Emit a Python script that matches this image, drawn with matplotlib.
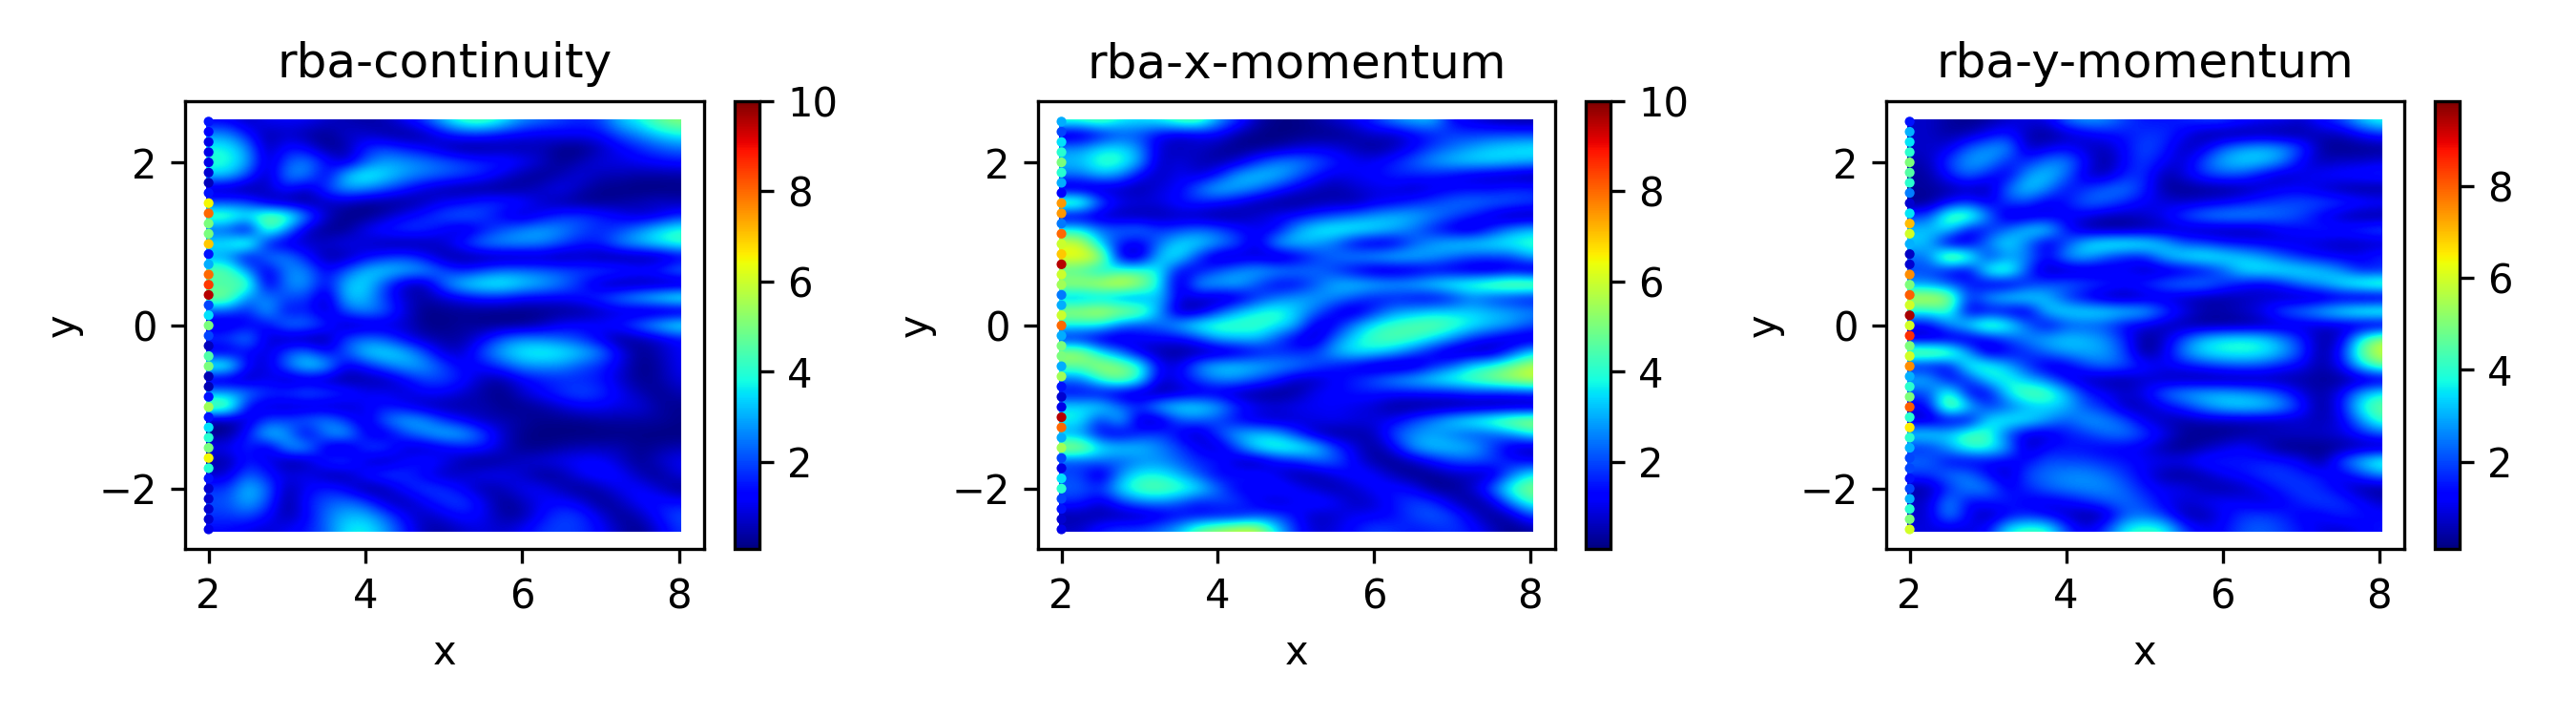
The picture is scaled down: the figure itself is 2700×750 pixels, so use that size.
import numpy as np
import matplotlib
matplotlib.use('Agg')
import matplotlib.pyplot as plt
from matplotlib.patches import Rectangle

# Residual weights, rows from y=2.5 down to y=-2.5

x_vals = [2 + 0.25 * i for i in range(25)]
y_vals = [2.5 - i / 6 for i in range(31)]
edge_y = [2.5 - i / 8 for i in range(41)]

titles = ['rba-continuity', 'rba-x-momentum', 'rba-y-momentum']
ranges = [(0.07, 10), (0.07, 10), (0.1, 9.85)]
cbar_ticks = [[2, 4, 6, 8, 10], [2, 4, 6, 8, 10], [2, 4, 6, 8]]

# Ajuste da leitura das cores para a escala da colorbar
read_levels = [0.3, 0.5, 0.7, 1.0, 1.5, 2.0, 3.0, 4.0, 10.0]
cbar_levels = [0.07, 0.2, 0.55, 1.15, 1.95, 2.7, 3.8, 4.8, 10.0]

# Pontos da borda esquerda (x=2), mais finos que a grade
edge_continuity = [1.5,1.2,1,1,1,.8,.6,1.5,6.5,8,5,5,7,1.5,3,8,8.5,9.5,2,3.5,5,2,.6,4.5,5,.5,.5,1.5,5.5,1.5,3.5,4,5,6.5,4,1.5,.8,.8,.8,.8,1]
edge_x_momentum = [3,2,3.5,4,5,4,3,1.2,7.5,7.5,2.5,8,6,7,9.5,6,5.5,2.5,3,6,8,3,5,5,3,5.5,1.5,.8,1,9.5,8,3,5.5,2,1,3.5,4,2,1.5,.8,1]
edge_y_momentum = [1.5,3,3.5,4,5,4.5,4,2.5,.8,3.5,7,6,3,.7,.8,7.5,5,8,6,9.5,6,8.5,5,6,7.5,3,4,5,8,4,6.5,4,3,2,2,1.5,2,3,4,5,6]

rba_continuity = [
    [1.5,1,.7,1,1,1,.8,.7,.6,.7,1,1.5,2.5,3.6,3.8,3,2,1.8,1.5,1.3,1.5,2.5,3,4,4.5],
    [1,2,1.2,.6,.8,.6,.5,.8,.8,.6,.5,.6,1,1.3,1.3,1.1,1,.9,1,1,1.1,1.6,2,2.6,3],
    [1.5,3,2,.6,1.2,1,.5,.6,1.3,1.5,1.2,1,.7,.4,.5,.6,.6,.7,.4,.3,.7,1,1.3,1.6,1.8],
    [1.5,3.2,2.3,.7,1.6,2,1.2,.7,1.6,2.2,2.1,1.9,1.7,1.5,1.3,1.3,1.1,.8,.5,.7,.9,.9,1,1.1,1.2],
    [.8,2.6,1.5,.6,2,2,.9,2.6,3.3,2.8,2.2,1.9,1.7,1.5,1.3,.9,.6,.5,.7,.9,.7,.7,.6,.6,.6],
    [1,.6,.4,.8,1.2,.7,1.5,2.2,2,1.6,1.2,.8,.6,.5,.4,.4,.6,.8,1,.7,.5,.4,.3,.3,.4],
    [6.5,1.5,1.5,.7,.5,.5,.7,.7,.5,.5,.5,.7,1,1.1,1.4,1.4,1.2,.8,.6,.5,.5,.6,.7,.8,.7],
    [7,4,3,4.5,4,2,.8,.4,.4,.7,1,1.3,1.6,1.8,1.5,1,.7,1,1.4,1.5,1.3,1,.8,.9,1.3],
    [5,1.5,.6,4,2,.7,.5,.5,1,1.3,1.5,1.4,1,.7,1.1,1.6,2,2.3,2,1.6,1.3,1.5,2,2.8,3.3],
    [7,3,4.5,1,.8,.8,.8,1,.8,.6,.5,.6,.8,1.4,2,2.2,2.2,2,1.6,1.2,1.3,2,2.5,3,3.5],
    [4,2,.8,2,2,1.2,.6,.6,1,1.3,1.5,1.1,.6,.5,.5,.5,.5,.6,.5,.7,.5,.4,.4,.4,.8],
    [5,4,2,.8,2,2,1,1.6,2.5,2.8,2.5,2.3,1.6,1.2,1.5,1.8,1.8,1.7,1.6,1.5,1.6,1.5,1.3,1.5,2],
    [8,3.5,4.2,.7,2,2.2,1,2.5,2.8,1.5,.7,.6,1.8,2.8,3.2,3.3,2.8,2.4,1.9,1.3,.7,.5,.5,.4,.3],
    [3,4.5,1.8,2,1.5,1.5,.6,2.5,2.5,1.4,.8,.6,.8,1,1.2,1.2,1,1,1,1.2,1.5,2,2.6,3.2,3.8],
    [5,1.5,1.2,2.5,1,1.3,.7,1.6,2,1.7,.9,.4,.5,.5,.5,.4,.4,.4,.5,.5,.7,.8,.6,.5,.4],
    [3,.8,1,1,2,1.9,1.4,.6,.7,.8,.8,.5,.4,.6,.5,.5,.5,.7,1,1.1,1.1,1.3,1.9,2.7,3.4],
    [.7,1.5,2.2,.8,.6,.5,.5,1.5,1.8,1.6,1,.7,.6,.6,1,1.7,2,1.9,1.7,1.4,.9,.4,.6,.8,1.1],
    [3.5,.8,1.1,.8,1.6,1.9,1,1.6,2.7,2.9,2.5,1.6,.8,.8,1.6,2.4,3,3.2,3,2.6,2,1,.5,.7,1],
    [4.5,3.8,1,.8,1.8,3,2.6,.9,1.2,1.8,2.3,2.2,1.5,1,1.1,1.5,2,2.1,2,1.6,1.3,.9,.4,.6,1],
    [.6,.6,.6,1,.6,.7,.6,.5,.6,.6,1,1.5,1.5,1.2,.7,.6,1,1.2,1.3,1.3,1.2,.8,.5,.6,.9],
    [1.5,2.3,2,1.4,1.5,1.8,1.6,1.4,1,1,.8,1,1,.8,.6,.4,.8,1.1,1.4,1.6,1.4,1,.7,.5,.7],
    [5.5,4.5,1,.8,.7,.7,.7,.7,1,1.2,1,.7,.6,.6,.7,.5,.5,.6,.8,1,1,.9,.9,.6,.5],
    [.7,.5,.8,1.5,1.5,1.8,2,1.4,.8,1.8,2.4,2.2,1.4,1,.7,.7,.6,.5,.5,.5,.6,.6,.6,.6,.5],
    [3.5,.5,1.2,2.8,2.2,.8,2,2.5,1,.8,1.5,2,2.6,2.4,1.6,.8,.5,.3,.3,.3,.3,.4,.4,.3,.3],
    [5.5,1,1.4,.7,2.2,2.4,.8,.6,1.5,1.6,.8,.7,.9,1.2,1.2,.8,.5,.5,.6,.7,.7,.7,.5,.6,.7],
    [5,.6,1.2,1,.5,.6,1.4,1.6,.8,.6,1,1.3,1,.6,.4,.6,.8,.9,1,1.1,1.1,.8,.5,.8,1],
    [3,.8,1.8,1.2,.9,1,.6,.6,1.2,1.6,1.4,1,.7,.8,1,1,.8,.5,.6,1,1.2,1.1,.7,.5,.9],
    [1,1.4,2.6,1.8,.6,1,1.3,1,.5,.6,1.2,1.5,1.4,1,.6,.7,1,1,.7,.4,.7,1,1.1,.8,.4],
    [.8,1.6,2.4,1.6,.4,1.2,1.6,1.8,1.5,.8,.6,1,1.4,1.5,1,.5,.7,1,1.1,.9,.4,.7,1.1,1.2,1.1],
    [.8,1.4,1.6,1.1,.6,1,1.8,2.4,2.4,1.7,1,.7,.9,1.2,1,.6,.6,1.1,1.5,1.4,.9,.5,.7,1.2,1.6],
    [1.2,1.1,.9,.8,1,1.2,1.7,2.8,3,2.2,1.3,.7,.6,.8,.9,.8,1,1.4,1.5,1.4,1.1,.7,.4,.9,1.4],
]

rba_x_momentum = [
    [3,3.5,4,3,2.8,3,3.8,4,2.2,1.4,.7,.4,.4,.6,.8,1,1.4,2,2.4,2.5,1,.9,.7,.6,.6],
    [3.5,.6,1,1.5,1.5,1,.8,.9,1,.6,.4,.3,.4,.5,.4,.6,.8,.7,1,1.2,1.5,1.4,1.5,1.5,1.5],
    [4.5,2,2.7,2.8,2,.8,.7,.8,.6,.4,.5,.6,.8,.9,.9,.7,.5,.7,1,1.5,1.8,2.2,2.6,2.8,3],
    [4,2.5,3.5,3.4,2.3,.7,.9,.7,.6,.8,1.4,1.9,2,1.7,1.3,1,1,1.3,1.7,2.2,2.6,2.8,2.8,2.6,2.4],
    [2.5,1.8,2.4,2,1,.7,1,.8,1.2,2.3,2.6,2.5,1.8,1.2,.9,1,1.1,1.3,1.3,1.2,1,.8,.7,.6,.5],
    [1.5,.6,.6,.7,.6,.9,1,1.8,2.6,2.3,1.9,1.3,.9,.7,.6,.8,.9,.9,.7,.9,1,1.1,1.1,1.3,1.3],
    [7,4.5,1.7,1,.9,.9,1.2,1.3,1.1,.9,.6,.5,.5,.6,.7,.6,.9,1,1.3,1.5,1.8,1.9,1.8,1.7,1.5],
    [4.5,.7,.7,.6,.6,.6,.7,.6,.5,.6,.8,1,1.1,1.4,1.6,1.9,2.2,2.5,2.4,2,1.6,1.2,.8,.5,.5],
    [7,3,1.8,1.8,2,1.4,1.5,1.8,1.6,1.2,1,1,2.2,3,3.3,3.2,2.9,2.4,1.8,1.2,.8,.7,1.3,2,2.5],
    [5,5.5,2.5,1.2,.9,1.8,2.8,2.8,2.2,1.6,.8,2.4,2.6,2.2,1.7,.9,.7,.8,1.6,2.2,2.7,2.9,3,3.2,3.4],
    [6,6,5.5,.8,.6,2.6,3,1.4,.6,.7,.8,.5,.8,1.4,1.8,2.2,2.5,2.8,2.6,2.2,1.8,1.5,1.5,1.5,2.4],
    [9,3.5,2.5,3.5,3.5,3,1,1,1.6,2,2.4,2.2,2,1.8,1.4,.9,.6,.6,.7,.9,.8,.7,.6,.8,.5],
    [5,5,5.5,6,5,3,.6,2.4,2.4,2.5,1.6,1,1,1.6,2.4,2.7,2.6,2.4,2.6,3,3.5,3.8,4.5,5,5],
    [2,2,2.2,1.8,1.8,2.7,.9,.8,.6,.7,1.3,1.8,2.2,2.2,2,1.6,1.2,1.2,1,.9,1.2,1.8,1.4,1.2,1],
    [4.5,5,5.5,5,4.5,2.2,.6,.6,1.4,2.4,3,3.4,2.6,1.8,1,.7,1.3,2,2.3,2.6,2.6,2.6,2.4,2.2,2],
    [7,3,3,1.8,1.5,1.8,2.5,3.4,3.7,3.5,3.5,3,2.4,.8,1,2,3,3.5,3.8,4,3.6,3,2.5,2.2,1.6],
    [2,1,.7,.7,1,1,1,1.4,2.3,2.5,2.5,1.6,.9,.7,1.8,2.8,3.6,3.8,3.5,2.8,2,1.3,1,.7,.7],
    [5.5,5,2.8,1.8,.8,.6,.5,.5,.5,.7,1,1.3,1.3,1.5,2.4,3,2.8,2.3,1.6,1,.6,.6,.6,1.4,2.6],
    [2.5,4,5,4.5,3.5,1,.9,2,2.7,2.7,2.5,2.2,2,1.6,1.2,.9,.6,.5,.6,1.2,1.7,2.8,3.3,4.2,5.2],
    [5.5,1.8,3.4,4.5,3.2,.8,1,1.5,2,2,1.6,1.2,.7,.7,1,1.3,1.7,2.2,2.6,3,3.5,3.8,4.5,5,5.5],
    [.9,1,.9,.7,.6,.5,.7,.8,.8,.6,.5,.4,.6,1,1.1,1.2,1.2,1.1,1.1,1.1,1.1,1.3,1.2,1.2,1.3],
    [1,2.8,3,1.8,1.4,2.6,3,3,2.4,1.4,1,.9,1,1,1,.9,.8,.5,.4,.4,.4,.4,.4,.5,.4],
    [9,3,1.2,2.8,.7,.6,1.6,1.7,1.5,1,.8,.7,.8,.9,1,.9,.9,1,1.5,2,2.8,3.4,4,4.8,5.2],
    [2.5,2,1,.8,1.3,1.5,1,.6,1.5,2.4,2.6,2.4,1.4,.7,.5,.6,.7,1.6,2,2.2,1.8,1.5,1.6,2,3],
    [5.5,5.2,3,2.8,2.6,2,1.5,1,.7,1.6,3,3.5,3.5,2.8,1.5,.9,.5,1,2.2,2.6,2.6,2.4,1.5,.8,.6],
    [1.8,1.5,1.8,1.6,1.9,2,1.7,1.3,1.3,.7,.5,1,1.2,1.7,1.7,1,.6,.4,.7,1.1,1.5,1.6,1.5,1.2,1],
    [3.5,1.5,.6,2,3,3,2.4,1.6,1,1.2,1.3,.9,.6,.6,.9,1.2,1.1,.7,.4,.5,.7,.7,.7,1.8,3],
    [3,1.7,1.4,2.8,3.8,4,3.6,3,1.8,1,1,1.3,1.1,.8,.6,.8,1.1,1.2,1,.5,.5,.8,1.7,3.5,4.5],
    [1.5,1.3,.8,1.4,1.9,2,1.7,1.2,1.5,1.5,1,.7,1,1.3,1.1,.7,.8,1.2,1.5,1.4,.8,.4,.8,2,3.5],
    [1,.6,.6,.6,.6,.8,1,1,1,1,1.4,1.5,1.1,.7,.8,1,1,1.1,1.5,1.7,1.5,.9,.4,.7,1.5],
    [1,.8,1.3,1.5,1.5,1.8,2.4,4,4.8,5.5,5.5,2.8,1.3,.8,.9,1.2,1.5,1.4,1.2,1.3,1.4,1.2,.8,.4,.6],
]

rba_y_momentum = [
    [1.5,.8,.6,.5,.6,.8,.9,.9,1.8,2.2,2,1.5,1.2,1.2,1.3,1.5,1.5,1.2,1,1,.8,1.2,1.5,2.5,3.2],
    [3,.8,.6,.7,1,1.3,.7,.5,.7,.9,1.1,1.2,1.4,1.4,1,.6,.5,.5,.6,.5,.6,.7,.7,1,1.3],
    [3.8,.8,.9,1.7,2.1,2.2,.7,.9,1.1,.8,.7,1.1,1.6,1.3,.7,.9,1.7,2.2,2.4,2.2,1.5,.6,.5,.5,.5],
    [4.5,.7,1.5,2.2,2.2,1.3,1.3,1.9,2,1.1,.5,1.1,1.5,1,.8,1.6,2.4,2.7,2.6,2,1,.7,.8,.8,.9],
    [4,.6,1.2,1.8,1.2,.9,2.2,2.6,1.8,.8,.7,1.3,1.4,.6,.9,1.4,1.6,1.5,1,.7,.9,1.1,1.2,1.3,1.4],
    [2.2,.6,.6,.7,.6,1.8,2.7,2,1.1,1.4,1.8,1.9,1.3,.6,.5,.5,.5,.6,.8,1,1,.8,.6,.5,.5],
    [.8,.5,1,1.4,.9,1.5,1.5,.9,1.2,1.8,1.7,1.3,1,.9,.8,.9,1,1.2,1.4,1.5,1.6,1.6,1.5,1.3,1.2],
    [5,1.5,4,4.2,2,.7,.7,.9,1,.9,.7,.7,.8,1,1.6,2,2.2,2.2,2,1.8,1.5,1,.7,.5,.5],
    [6,2.5,2.8,1,1.2,1.8,2.8,3,1.2,.6,.5,.5,.6,.7,.7,.6,.6,.6,.7,1,1.1,1.3,1.3,1.5,1.7],
    [3.2,2.5,.6,.8,2,3,1.8,.8,1.5,2.8,3.4,3.5,3.3,2.5,1.6,1.5,1.2,1.1,1,.9,.9,.8,.7,.7,.7],
    [.7,1.8,5.5,4,1.2,2,2,1,2.2,2.4,1.6,1.2,1.2,2.4,3,3.3,3,2.6,2.2,1.7,1.3,1.1,1,1,1.4],
    [7,1.5,1,.8,3.5,4,1.5,.6,.6,.7,.8,1,.7,.7,.8,1,1.6,2.8,3,3,2.9,2.6,2,1.2,1.2],
    [7.5,2,1.6,1.3,.8,.7,1.3,1.6,1.8,1.6,1.4,1.2,1.4,1.8,2,2,1.5,1.1,.9,1.2,1.8,2.2,3,3.8,4.2],
    [6,5.5,5,1.3,2.4,3,3,2.5,1.4,.9,.6,.5,.7,.8,.7,.6,.6,.7,.8,.7,.6,.6,.7,.5,.5],
    [9.5,3,3.5,.8,.9,.8,.7,2.6,2.9,3,3,2.8,2.6,1.6,1,.7,.7,.8,1,1.7,2,2.6,3.2,3.8,4],
    [4,1,2,3,4.5,3.5,1.8,.9,1.5,1.6,1.5,1,.9,.7,.6,.5,.5,.5,.6,.7,.8,.8,.8,.6,.5],
    [8.5,.7,.7,.7,1,1.5,2,2.4,2.6,2.4,2,1.3,.5,.8,1.6,2.5,2.9,3,2.8,2,1.3,.6,.8,3,4.8],
    [6,5,4.5,2.2,.7,1,1.3,1.8,2.2,2.3,2.2,1.5,.4,.9,2,2.8,3.1,3.2,3,2.4,1.5,.5,1.2,3.8,5.5],
    [7.5,1,1,3.3,3.4,2.4,1.4,.8,.9,1.5,1.8,1.6,1.2,1,1.1,1.3,1.5,1.6,1.5,1.2,1,.6,1,2.6,4],
    [3.5,2.5,1,1.3,2.8,3.2,2.4,1.8,1,.7,.6,.6,.8,.7,.6,.5,.5,.5,.6,.6,.6,.6,.5,.6,.6],
    [5.5,1.5,3.8,1,.9,2.8,4,3.8,2.5,1.3,1,.8,1,1.8,2.2,2.4,2.4,2.2,1.9,1.5,.9,.6,1,2.2,3],
    [7,1,5,2.8,1.4,1.6,2.2,2.6,2.4,1.6,1.3,.7,.7,1,1.4,2,2.6,2.8,2.7,2.2,1.3,.5,1.1,3,4],
    [2,.7,.8,.8,2.8,3.2,3,2.2,1.6,2.2,2,1.6,.9,.7,.6,.7,.7,.7,.7,.7,.8,.7,.9,2,3.5],
    [6,3,2.6,3.8,3.5,1.5,.8,.8,1.2,1.4,1.8,1.9,1.5,1,.6,.5,.5,.6,.7,.8,.8,.8,.9,1.2,1.6],
    [3.5,1.3,2.2,3.4,3.4,2.2,.7,1.1,1.2,1.1,1,1,.9,.6,.4,.7,.9,1.1,.8,.4,.4,.5,.5,.6,.5],
    [3,1.8,1,.9,1,1,1.1,1.6,1.5,1.5,1.3,1.2,1,1,1,1.3,1.3,1.2,1.3,1.2,1,.5,1.6,2.6,3.6],
    [2,1.4,1.9,1.9,1.1,.7,1.6,1.8,2,2,1.8,1.4,1,.6,.5,.7,1,1.2,1.4,1.5,1.3,1.2,.9,1.4,2],
    [2,.6,1.3,2,2,1,1.3,1.7,1.9,2,2,1.7,1.2,1,1,.7,.6,.7,1,1.3,1.5,1.3,1,.6,.5],
    [2.5,.8,2.2,1,1.2,1.3,1,.9,1,1.3,1.6,1.8,1.5,1,.8,1,1.1,1,.8,1,1.3,1.5,1.4,1.1,.8],
    [3.5,.8,2.2,1,.6,1,1.3,1,.8,.5,.7,1.6,1.8,1.4,.7,.6,1,1.4,1.5,1.3,1,1,1.3,1.2,1.1],
    [5.5,.9,.8,.9,1.1,3,3.6,3.5,1.5,.9,1.5,3,3.5,3.2,1.5,1,1.1,1.6,1.7,1.5,1.2,.9,.8,1,1.2],
]

panels = [rba_continuity, rba_x_momentum, rba_y_momentum]
edges = [edge_continuity, edge_x_momentum, edge_y_momentum]

# Posicoes em pixels: axes esquerda/direita e colorbar esquerda/direita
ax_boxes = [(194, 738), (1088, 1630), (1977, 2520)]
cax_boxes = [(770, 796), (1662, 1688), (2552, 2578)]
top, bottom = 106, 575
W, H = 2700, 750

fig = plt.figure(figsize=(9, 2.5), dpi=300)

dx = x_vals[1] - x_vals[0]
dy = y_vals[0] - y_vals[1]
extent = [x_vals[0] - dx / 2, x_vals[-1] + dx / 2, y_vals[-1] - dy / 2, y_vals[0] + dy / 2]

for i in range(3):
    l, r = ax_boxes[i]
    ax = fig.add_axes([l / W, 1 - bottom / H, (r - l) / W, (bottom - top) / H])
    grid = np.interp(np.array(panels[i]), read_levels, cbar_levels)
    # A primeira coluna fica por conta dos pontos da borda
    grid[:, 0] = grid[:, 1]
    im = ax.imshow(grid, cmap='jet', vmin=ranges[i][0], vmax=ranges[i][1],
                   extent=extent, aspect='auto', interpolation='bicubic',
                   interpolation_stage='data')
    # Recorta na regiao dos pontos
    clip = Rectangle((1.97, -2.53), 6.06, 5.06, transform=ax.transData)
    im.set_clip_path(clip)
    ax.scatter([2.0] * len(edge_y), edge_y, c=edges[i], s=6, cmap='jet',
               vmin=ranges[i][0], vmax=ranges[i][1], linewidths=0)
    ax.set_xlim(1.70, 8.32)
    ax.set_ylim(-2.74, 2.75)
    ax.set_xticks([2, 4, 6, 8])
    ax.set_yticks([-2, 0, 2])
    ax.set_xlabel('x')
    ax.set_ylabel('y')
    ax.set_title(titles[i])

    cl, cr = cax_boxes[i]
    cax = fig.add_axes([cl / W, 1 - bottom / H, (cr - cl) / W, (bottom - top) / H])
    cb = fig.colorbar(im, cax=cax)
    cb.set_ticks(cbar_ticks[i])

fig.savefig('out.png', dpi=300)
